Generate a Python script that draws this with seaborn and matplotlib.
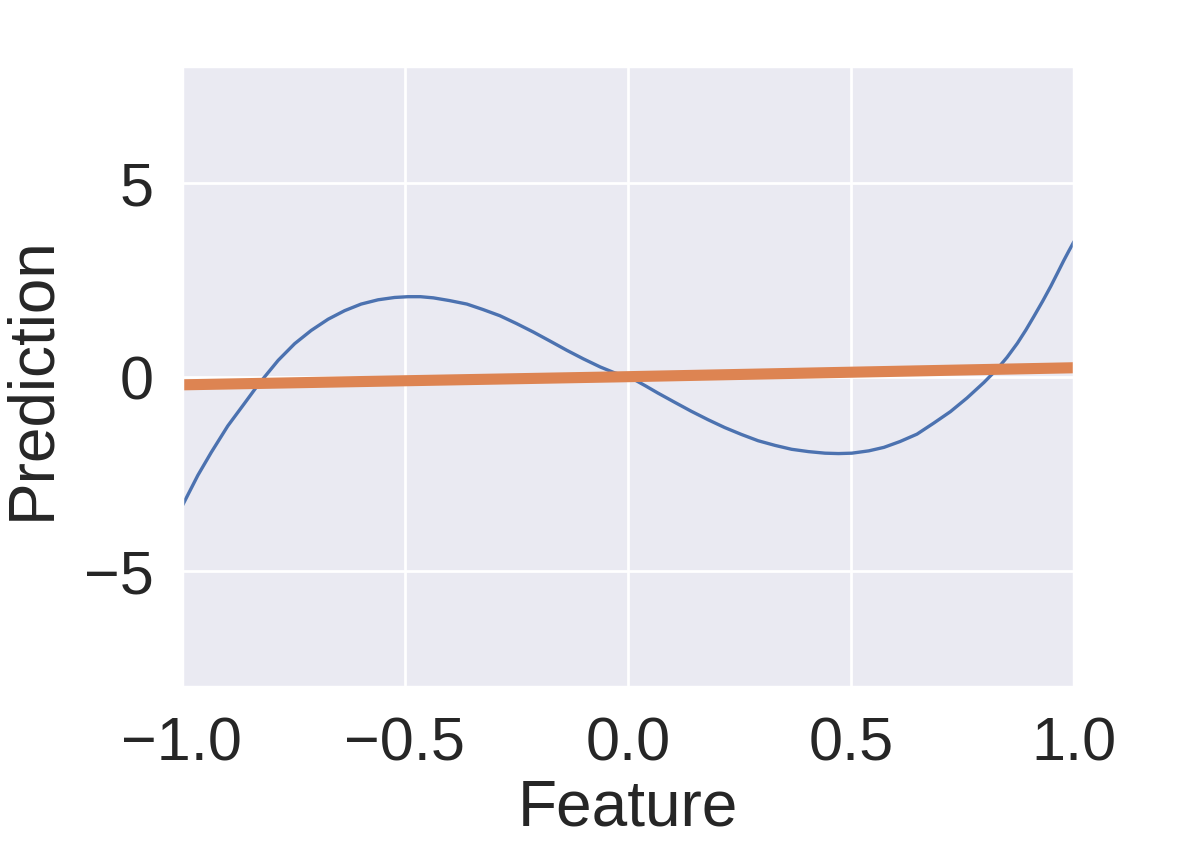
import numpy as np
import pandas as pd
import matplotlib
matplotlib.use("Agg")
import matplotlib.pyplot as plt
import seaborn as sns

# Blue curve (model prediction)
curve_x = [-1.0, -0.964, -0.934, -0.897, -0.859, -0.829, -0.814, -0.784, -0.747,
           -0.710, -0.672, -0.635, -0.598, -0.560, -0.523, -0.493, -0.465, -0.436,
           -0.400, -0.361, -0.325, -0.287, -0.250, -0.212, -0.175, -0.137, -0.100,
           -0.062, -0.030, 0.0, 0.015, 0.040, 0.067, 0.105, 0.142, 0.180, 0.217,
           0.255, 0.292, 0.330, 0.367, 0.405, 0.442, 0.472, 0.502, 0.540, 0.574,
           0.610, 0.648, 0.685, 0.723, 0.760, 0.798, 0.828, 0.850, 0.873, 0.892,
           0.910, 0.930, 0.948, 0.963, 0.977, 0.989, 1.0]
curve_y = [-3.35, -2.54, -1.95, -1.27, -0.68, -0.21, 0.0, 0.42, 0.85,
           1.19, 1.48, 1.70, 1.87, 1.98, 2.04, 2.06, 2.06, 2.03,
           1.96, 1.87, 1.73, 1.57, 1.37, 1.15, 0.92, 0.68, 0.46,
           0.25, 0.10, 0.0, -0.08, -0.24, -0.42, -0.66, -0.89, -1.11, -1.31,
           -1.49, -1.65, -1.77, -1.87, -1.93, -1.97, -1.98, -1.97, -1.91, -1.82,
           -1.67, -1.48, -1.20, -0.90, -0.55, -0.15, 0.20, 0.50, 0.86, 1.20,
           1.55, 1.95, 2.33, 2.67, 2.99, 3.25, 3.48]

# Orange line (linear fit)
line_x = [-1.0, 0.0, 1.0]
line_y = [-0.21, 0.0, 0.23]

x_ticks = [-1.0, -0.5, 0.0, 0.5, 1.0]
y_ticks = [-5, 0, 5]

sns.set_theme(style="darkgrid")
plt.rcParams["font.family"] = ["Liberation Sans", "DejaVu Sans"]

fig = plt.figure(figsize=(5.98, 4.27), dpi=200)
ax = fig.add_axes([0.152, 0.194, 0.746, 0.7275])

pal = sns.color_palette("deep")
sns.lineplot(x=curve_x, y=curve_y, ax=ax, color=pal[0], linewidth=1.2, sort=False)
sns.lineplot(x=line_x, y=line_y, ax=ax, color=pal[1], linewidth=4.0)

ax.set_xlim(-1, 1)
ax.set_ylim(-8, 8)
ax.set_xticks(x_ticks)
ax.set_yticks(y_ticks)
ax.tick_params(labelsize=22, colors="#262626", pad=4)
ax.set_xlabel("Feature", fontsize=23, color="#262626", labelpad=2)
ax.set_ylabel("Prediction", fontsize=23, color="#262626", labelpad=8)

fig.savefig("out.png", dpi=200)
